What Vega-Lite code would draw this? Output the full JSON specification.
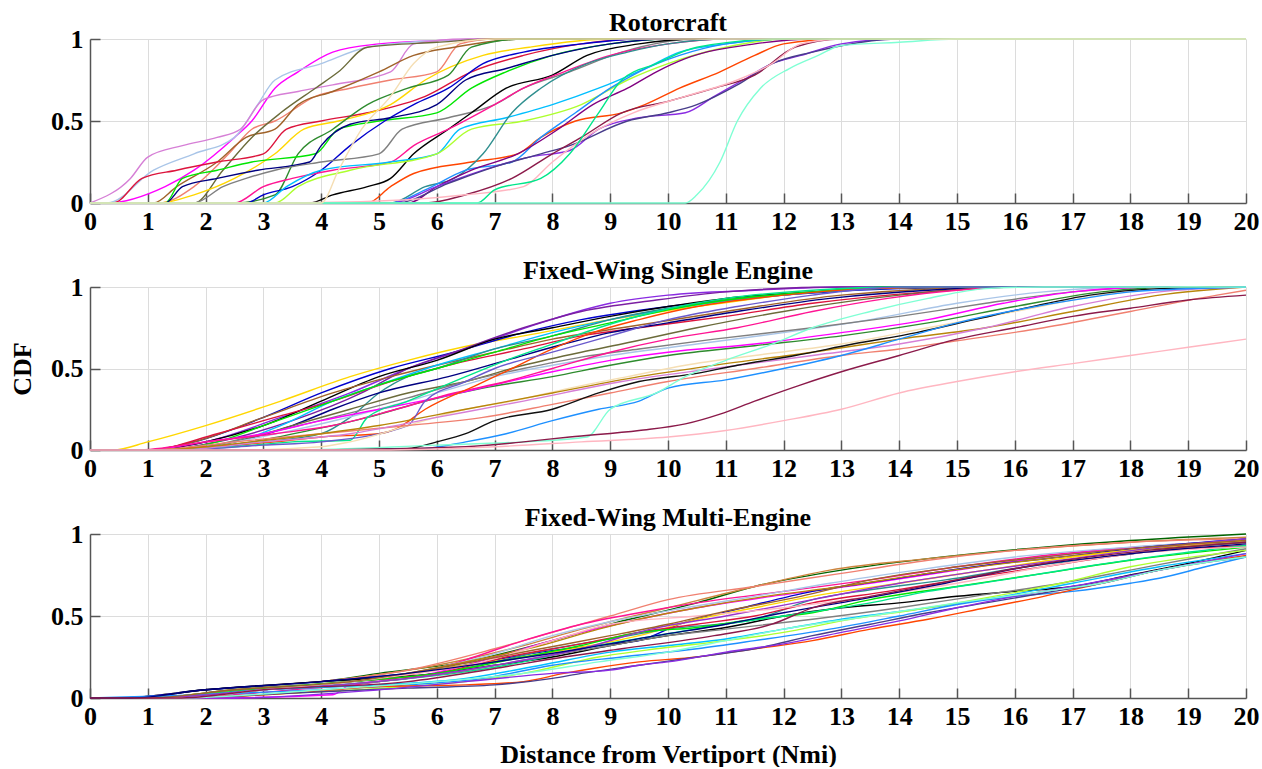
{
"$schema":"https://vega.github.io/schema/vega-lite/v6.json",
"background":"white",
"padding":{"left":9,"top":10,"right":5,"bottom":0},
"bounds":"flush",
"spacing":84,
"config":{
"font":"'Liberation Serif', 'Times New Roman', Times, serif",
"view":{"stroke":null},
"axis":{"labelFont":"'Liberation Serif', 'Times New Roman', Times, serif","labelFontSize":26,"labelFontWeight":"bold","labelColor":"#000","titleFont":"'Liberation Serif', 'Times New Roman', Times, serif","titleFontSize":26,"titleFontWeight":"bold","titleColor":"#000","domainColor":"#555","domainWidth":1.5,"tickColor":"#555","tickWidth":1.5,"tickSize":-10,"gridColor":"#dcdcdc","gridWidth":1,"labelFlush":false,"labelOverlap":false,"labelBound":false},
"axisX":{"labelPadding":15},
"axisY":{"labelPadding":17},
"title":{"font":"'Liberation Serif', 'Times New Roman', Times, serif","fontSize":26,"fontWeight":"bold","color":"#000","frame":"group","anchor":"middle","offset":-10}
},
"data":{"values":[
{"p":"R","s":"s01","x":0,"y":0},{"p":"R","s":"s01","x":0.3,"y":0},{"p":"R","s":"s01","x":1.3,"y":0.1},{"p":"R","s":"s01","x":1.8,"y":0.2},{"p":"R","s":"s01","x":2.5,"y":0.4},{"p":"R","s":"s01","x":2.8,"y":0.5},{"p":"R","s":"s01","x":3.2,"y":0.7},{"p":"R","s":"s01","x":3.6,"y":0.8},{"p":"R","s":"s01","x":4.2,"y":0.92},{"p":"R","s":"s01","x":5,"y":0.97},{"p":"R","s":"s01","x":6,"y":0.99},{"p":"R","s":"s01","x":7,"y":1},{"p":"R","s":"s01","x":20,"y":1},
{"p":"R","s":"s02","x":0,"y":0},{"p":"R","s":"s02","x":0.3,"y":0},{"p":"R","s":"s02","x":1.1,"y":0.2},{"p":"R","s":"s02","x":1.8,"y":0.3},{"p":"R","s":"s02","x":2.5,"y":0.4},{"p":"R","s":"s02","x":2.9,"y":0.6},{"p":"R","s":"s02","x":3.2,"y":0.75},{"p":"R","s":"s02","x":4,"y":0.85},{"p":"R","s":"s02","x":4.8,"y":0.95},{"p":"R","s":"s02","x":6,"y":0.99},{"p":"R","s":"s02","x":7,"y":1},{"p":"R","s":"s02","x":20,"y":1},
{"p":"R","s":"s03","x":0,"y":0},{"p":"R","s":"s03","x":0.7,"y":0.15},{"p":"R","s":"s03","x":1.0,"y":0.28},{"p":"R","s":"s03","x":1.6,"y":0.35},{"p":"R","s":"s03","x":2.2,"y":0.4},{"p":"R","s":"s03","x":2.6,"y":0.45},{"p":"R","s":"s03","x":3.0,"y":0.63},{"p":"R","s":"s03","x":3.6,"y":0.68},{"p":"R","s":"s03","x":4.2,"y":0.72},{"p":"R","s":"s03","x":5.2,"y":0.8},{"p":"R","s":"s03","x":5.6,"y":0.97},{"p":"R","s":"s03","x":6.5,"y":1},{"p":"R","s":"s03","x":20,"y":1},
{"p":"R","s":"s04","x":0,"y":0},{"p":"R","s":"s04","x":1.2,"y":0},{"p":"R","s":"s04","x":1.8,"y":0.1},{"p":"R","s":"s04","x":2.4,"y":0.3},{"p":"R","s":"s04","x":2.8,"y":0.45},{"p":"R","s":"s04","x":3.2,"y":0.5},{"p":"R","s":"s04","x":3.9,"y":0.65},{"p":"R","s":"s04","x":4.5,"y":0.7},{"p":"R","s":"s04","x":5.2,"y":0.75},{"p":"R","s":"s04","x":6.0,"y":0.8},{"p":"R","s":"s04","x":6.4,"y":0.97},{"p":"R","s":"s04","x":7,"y":1},{"p":"R","s":"s04","x":20,"y":1},
{"p":"R","s":"s05","x":0,"y":0},{"p":"R","s":"s05","x":1.1,"y":0},{"p":"R","s":"s05","x":1.5,"y":0.1},{"p":"R","s":"s05","x":2.2,"y":0.25},{"p":"R","s":"s05","x":2.7,"y":0.4},{"p":"R","s":"s05","x":3.2,"y":0.45},{"p":"R","s":"s05","x":3.6,"y":0.6},{"p":"R","s":"s05","x":4.2,"y":0.68},{"p":"R","s":"s05","x":5,"y":0.8},{"p":"R","s":"s05","x":5.6,"y":0.9},{"p":"R","s":"s05","x":6.3,"y":0.95},{"p":"R","s":"s05","x":7.5,"y":1},{"p":"R","s":"s05","x":20,"y":1},
{"p":"R","s":"s06","x":0,"y":0},{"p":"R","s":"s06","x":1.8,"y":0},{"p":"R","s":"s06","x":2.3,"y":0.2},{"p":"R","s":"s06","x":2.8,"y":0.4},{"p":"R","s":"s06","x":3.3,"y":0.55},{"p":"R","s":"s06","x":3.9,"y":0.7},{"p":"R","s":"s06","x":4.3,"y":0.8},{"p":"R","s":"s06","x":4.8,"y":0.95},{"p":"R","s":"s06","x":6,"y":0.98},{"p":"R","s":"s06","x":7,"y":1},{"p":"R","s":"s06","x":20,"y":1},
{"p":"R","s":"s07","x":0,"y":0},{"p":"R","s":"s07","x":0.4,"y":0},{"p":"R","s":"s07","x":0.9,"y":0.15},{"p":"R","s":"s07","x":1.5,"y":0.2},{"p":"R","s":"s07","x":2.2,"y":0.25},{"p":"R","s":"s07","x":3.0,"y":0.3},{"p":"R","s":"s07","x":3.4,"y":0.45},{"p":"R","s":"s07","x":4.0,"y":0.5},{"p":"R","s":"s07","x":4.8,"y":0.55},{"p":"R","s":"s07","x":5.8,"y":0.65},{"p":"R","s":"s07","x":6.6,"y":0.8},{"p":"R","s":"s07","x":7.5,"y":0.9},{"p":"R","s":"s07","x":8.5,"y":0.97},{"p":"R","s":"s07","x":9.5,"y":1},{"p":"R","s":"s07","x":20,"y":1},
{"p":"R","s":"s08","x":0,"y":0},{"p":"R","s":"s08","x":1.2,"y":0},{"p":"R","s":"s08","x":1.8,"y":0.05},{"p":"R","s":"s08","x":2.5,"y":0.15},{"p":"R","s":"s08","x":3.2,"y":0.3},{"p":"R","s":"s08","x":3.7,"y":0.45},{"p":"R","s":"s08","x":4.3,"y":0.5},{"p":"R","s":"s08","x":5.2,"y":0.6},{"p":"R","s":"s08","x":5.8,"y":0.75},{"p":"R","s":"s08","x":6.8,"y":0.9},{"p":"R","s":"s08","x":7.6,"y":0.95},{"p":"R","s":"s08","x":9,"y":1},{"p":"R","s":"s08","x":20,"y":1},
{"p":"R","s":"s09","x":0,"y":0},{"p":"R","s":"s09","x":2.5,"y":0},{"p":"R","s":"s09","x":3.2,"y":0.05},{"p":"R","s":"s09","x":3.6,"y":0.3},{"p":"R","s":"s09","x":4.2,"y":0.45},{"p":"R","s":"s09","x":4.8,"y":0.6},{"p":"R","s":"s09","x":5.5,"y":0.7},{"p":"R","s":"s09","x":6.2,"y":0.78},{"p":"R","s":"s09","x":6.6,"y":0.95},{"p":"R","s":"s09","x":7.5,"y":1},{"p":"R","s":"s09","x":20,"y":1},
{"p":"R","s":"s10","x":0,"y":0},{"p":"R","s":"s10","x":1.3,"y":0},{"p":"R","s":"s10","x":1.6,"y":0.15},{"p":"R","s":"s10","x":2.2,"y":0.2},{"p":"R","s":"s10","x":2.8,"y":0.25},{"p":"R","s":"s10","x":3.9,"y":0.3},{"p":"R","s":"s10","x":4.3,"y":0.45},{"p":"R","s":"s10","x":5,"y":0.5},{"p":"R","s":"s10","x":6,"y":0.55},{"p":"R","s":"s10","x":6.6,"y":0.7},{"p":"R","s":"s10","x":7.2,"y":0.8},{"p":"R","s":"s10","x":8,"y":0.9},{"p":"R","s":"s10","x":9,"y":0.97},{"p":"R","s":"s10","x":10,"y":1},{"p":"R","s":"s10","x":20,"y":1},
{"p":"R","s":"s11","x":0,"y":0},{"p":"R","s":"s11","x":2.7,"y":0},{"p":"R","s":"s11","x":3.0,"y":0.05},{"p":"R","s":"s11","x":3.5,"y":0.1},{"p":"R","s":"s11","x":4.0,"y":0.2},{"p":"R","s":"s11","x":4.5,"y":0.35},{"p":"R","s":"s11","x":5.1,"y":0.5},{"p":"R","s":"s11","x":5.6,"y":0.6},{"p":"R","s":"s11","x":6.2,"y":0.7},{"p":"R","s":"s11","x":6.8,"y":0.85},{"p":"R","s":"s11","x":7.5,"y":0.92},{"p":"R","s":"s11","x":8.5,"y":0.97},{"p":"R","s":"s11","x":9.5,"y":1},{"p":"R","s":"s11","x":20,"y":1},
{"p":"R","s":"s12","x":0,"y":0},{"p":"R","s":"s12","x":1.3,"y":0},{"p":"R","s":"s12","x":1.6,"y":0.1},{"p":"R","s":"s12","x":2.2,"y":0.15},{"p":"R","s":"s12","x":2.9,"y":0.2},{"p":"R","s":"s12","x":3.8,"y":0.25},{"p":"R","s":"s12","x":4.0,"y":0.35},{"p":"R","s":"s12","x":4.5,"y":0.48},{"p":"R","s":"s12","x":5.2,"y":0.52},{"p":"R","s":"s12","x":6,"y":0.6},{"p":"R","s":"s12","x":6.5,"y":0.75},{"p":"R","s":"s12","x":7.2,"y":0.82},{"p":"R","s":"s12","x":8,"y":0.9},{"p":"R","s":"s12","x":9,"y":0.97},{"p":"R","s":"s12","x":10,"y":1},{"p":"R","s":"s12","x":20,"y":1},
{"p":"R","s":"s14","x":0,"y":0},{"p":"R","s":"s14","x":1.8,"y":0},{"p":"R","s":"s14","x":2.3,"y":0.1},{"p":"R","s":"s14","x":2.7,"y":0.15},{"p":"R","s":"s14","x":3.2,"y":0.2},{"p":"R","s":"s14","x":4.0,"y":0.25},{"p":"R","s":"s14","x":5.0,"y":0.3},{"p":"R","s":"s14","x":5.4,"y":0.45},{"p":"R","s":"s14","x":6.2,"y":0.52},{"p":"R","s":"s14","x":7.0,"y":0.6},{"p":"R","s":"s14","x":7.5,"y":0.7},{"p":"R","s":"s14","x":8.3,"y":0.8},{"p":"R","s":"s14","x":9.2,"y":0.92},{"p":"R","s":"s14","x":10.5,"y":1},{"p":"R","s":"s14","x":20,"y":1},
{"p":"R","s":"s13","x":0,"y":0},{"p":"R","s":"s13","x":3.8,"y":0},{"p":"R","s":"s13","x":4.2,"y":0.05},{"p":"R","s":"s13","x":4.8,"y":0.1},{"p":"R","s":"s13","x":5.2,"y":0.15},{"p":"R","s":"s13","x":5.6,"y":0.3},{"p":"R","s":"s13","x":6.2,"y":0.45},{"p":"R","s":"s13","x":6.6,"y":0.55},{"p":"R","s":"s13","x":7.2,"y":0.7},{"p":"R","s":"s13","x":8,"y":0.78},{"p":"R","s":"s13","x":8.6,"y":0.9},{"p":"R","s":"s13","x":9.5,"y":0.97},{"p":"R","s":"s13","x":10.5,"y":1},{"p":"R","s":"s13","x":20,"y":1},
{"p":"R","s":"s17","x":0,"y":0},{"p":"R","s":"s17","x":2.5,"y":0},{"p":"R","s":"s17","x":3.0,"y":0.1},{"p":"R","s":"s17","x":3.5,"y":0.15},{"p":"R","s":"s17","x":4.2,"y":0.2},{"p":"R","s":"s17","x":5.2,"y":0.25},{"p":"R","s":"s17","x":5.6,"y":0.35},{"p":"R","s":"s17","x":6.2,"y":0.45},{"p":"R","s":"s17","x":7.0,"y":0.6},{"p":"R","s":"s17","x":7.5,"y":0.7},{"p":"R","s":"s17","x":8.2,"y":0.8},{"p":"R","s":"s17","x":9,"y":0.9},{"p":"R","s":"s17","x":10,"y":0.97},{"p":"R","s":"s17","x":11,"y":1},{"p":"R","s":"s17","x":20,"y":1},
{"p":"R","s":"s15","x":0,"y":0},{"p":"R","s":"s15","x":3.0,"y":0},{"p":"R","s":"s15","x":3.4,"y":0.1},{"p":"R","s":"s15","x":4.0,"y":0.2},{"p":"R","s":"s15","x":5.2,"y":0.25},{"p":"R","s":"s15","x":6.0,"y":0.3},{"p":"R","s":"s15","x":6.4,"y":0.45},{"p":"R","s":"s15","x":7.2,"y":0.52},{"p":"R","s":"s15","x":8.0,"y":0.6},{"p":"R","s":"s15","x":8.8,"y":0.7},{"p":"R","s":"s15","x":9.6,"y":0.82},{"p":"R","s":"s15","x":10.2,"y":0.92},{"p":"R","s":"s15","x":11,"y":0.97},{"p":"R","s":"s15","x":12,"y":1},{"p":"R","s":"s15","x":20,"y":1},
{"p":"R","s":"s16","x":0,"y":0},{"p":"R","s":"s16","x":3.2,"y":0},{"p":"R","s":"s16","x":3.6,"y":0.1},{"p":"R","s":"s16","x":4.5,"y":0.2},{"p":"R","s":"s16","x":6.0,"y":0.3},{"p":"R","s":"s16","x":6.6,"y":0.45},{"p":"R","s":"s16","x":7.5,"y":0.5},{"p":"R","s":"s16","x":8.5,"y":0.6},{"p":"R","s":"s16","x":9.3,"y":0.75},{"p":"R","s":"s16","x":10,"y":0.85},{"p":"R","s":"s16","x":11,"y":0.95},{"p":"R","s":"s16","x":12,"y":1},{"p":"R","s":"s16","x":20,"y":1},
{"p":"R","s":"s18","x":0,"y":0},{"p":"R","s":"s18","x":4.8,"y":0},{"p":"R","s":"s18","x":5.2,"y":0.1},{"p":"R","s":"s18","x":5.6,"y":0.18},{"p":"R","s":"s18","x":6.6,"y":0.25},{"p":"R","s":"s18","x":7.4,"y":0.3},{"p":"R","s":"s18","x":7.8,"y":0.4},{"p":"R","s":"s18","x":8.4,"y":0.5},{"p":"R","s":"s18","x":9.2,"y":0.55},{"p":"R","s":"s18","x":9.6,"y":0.6},{"p":"R","s":"s18","x":10.2,"y":0.7},{"p":"R","s":"s18","x":10.9,"y":0.8},{"p":"R","s":"s18","x":11.5,"y":0.9},{"p":"R","s":"s18","x":12,"y":0.97},{"p":"R","s":"s18","x":13,"y":1},{"p":"R","s":"s18","x":20,"y":1},
{"p":"R","s":"s22","x":0,"y":0},{"p":"R","s":"s22","x":5.2,"y":0},{"p":"R","s":"s22","x":5.8,"y":0.1},{"p":"R","s":"s22","x":6.3,"y":0.15},{"p":"R","s":"s22","x":6.8,"y":0.3},{"p":"R","s":"s22","x":7.3,"y":0.55},{"p":"R","s":"s22","x":7.8,"y":0.7},{"p":"R","s":"s22","x":8.6,"y":0.85},{"p":"R","s":"s22","x":9.3,"y":0.92},{"p":"R","s":"s22","x":10,"y":0.97},{"p":"R","s":"s22","x":11,"y":1},{"p":"R","s":"s22","x":20,"y":1},
{"p":"R","s":"s19","x":0,"y":0},{"p":"R","s":"s19","x":5.2,"y":0},{"p":"R","s":"s19","x":5.8,"y":0.08},{"p":"R","s":"s19","x":6.5,"y":0.2},{"p":"R","s":"s19","x":7.3,"y":0.25},{"p":"R","s":"s19","x":7.8,"y":0.4},{"p":"R","s":"s19","x":8.4,"y":0.55},{"p":"R","s":"s19","x":9.0,"y":0.7},{"p":"R","s":"s19","x":9.5,"y":0.8},{"p":"R","s":"s19","x":10.2,"y":0.9},{"p":"R","s":"s19","x":11,"y":0.97},{"p":"R","s":"s19","x":12,"y":1},{"p":"R","s":"s19","x":20,"y":1},
{"p":"R","s":"s21","x":0,"y":0},{"p":"R","s":"s21","x":5.5,"y":0},{"p":"R","s":"s21","x":6.0,"y":0.1},{"p":"R","s":"s21","x":6.6,"y":0.2},{"p":"R","s":"s21","x":7.4,"y":0.3},{"p":"R","s":"s21","x":8.1,"y":0.45},{"p":"R","s":"s21","x":8.7,"y":0.6},{"p":"R","s":"s21","x":9.3,"y":0.7},{"p":"R","s":"s21","x":9.8,"y":0.8},{"p":"R","s":"s21","x":10.3,"y":0.88},{"p":"R","s":"s21","x":11.5,"y":0.97},{"p":"R","s":"s21","x":12.5,"y":1},{"p":"R","s":"s21","x":20,"y":1},
{"p":"R","s":"s20","x":0,"y":0},{"p":"R","s":"s20","x":5.2,"y":0},{"p":"R","s":"s20","x":6.0,"y":0.1},{"p":"R","s":"s20","x":6.8,"y":0.2},{"p":"R","s":"s20","x":7.6,"y":0.28},{"p":"R","s":"s20","x":8.3,"y":0.32},{"p":"R","s":"s20","x":8.8,"y":0.45},{"p":"R","s":"s20","x":9.5,"y":0.52},{"p":"R","s":"s20","x":10.3,"y":0.55},{"p":"R","s":"s20","x":10.8,"y":0.65},{"p":"R","s":"s20","x":11.3,"y":0.75},{"p":"R","s":"s20","x":11.8,"y":0.85},{"p":"R","s":"s20","x":12.3,"y":0.9},{"p":"R","s":"s20","x":13,"y":0.97},{"p":"R","s":"s20","x":14,"y":1},{"p":"R","s":"s20","x":20,"y":1},
{"p":"R","s":"s29","x":0,"y":0},{"p":"R","s":"s29","x":5.3,"y":0},{"p":"R","s":"s29","x":6.2,"y":0.12},{"p":"R","s":"s29","x":7.0,"y":0.22},{"p":"R","s":"s29","x":7.8,"y":0.3},{"p":"R","s":"s29","x":8.3,"y":0.35},{"p":"R","s":"s29","x":9.3,"y":0.5},{"p":"R","s":"s29","x":10,"y":0.55},{"p":"R","s":"s29","x":10.5,"y":0.6},{"p":"R","s":"s29","x":11.2,"y":0.72},{"p":"R","s":"s29","x":11.8,"y":0.85},{"p":"R","s":"s29","x":12.5,"y":0.92},{"p":"R","s":"s29","x":14,"y":1},{"p":"R","s":"s29","x":20,"y":1},
{"p":"R","s":"s26","x":0,"y":0},{"p":"R","s":"s26","x":5.8,"y":0},{"p":"R","s":"s26","x":6.5,"y":0.05},{"p":"R","s":"s26","x":7.3,"y":0.15},{"p":"R","s":"s26","x":8.0,"y":0.3},{"p":"R","s":"s26","x":8.5,"y":0.4},{"p":"R","s":"s26","x":9.2,"y":0.55},{"p":"R","s":"s26","x":10.0,"y":0.62},{"p":"R","s":"s26","x":10.8,"y":0.7},{"p":"R","s":"s26","x":11.5,"y":0.78},{"p":"R","s":"s26","x":12.2,"y":0.95},{"p":"R","s":"s26","x":13,"y":1},{"p":"R","s":"s26","x":20,"y":1},
{"p":"R","s":"s25","x":0,"y":0},{"p":"R","s":"s25","x":3.5,"y":0},{"p":"R","s":"s25","x":5.5,"y":0.02},{"p":"R","s":"s25","x":6.5,"y":0.05},{"p":"R","s":"s25","x":7.5,"y":0.1},{"p":"R","s":"s25","x":8.0,"y":0.25},{"p":"R","s":"s25","x":8.8,"y":0.45},{"p":"R","s":"s25","x":9.4,"y":0.55},{"p":"R","s":"s25","x":10.3,"y":0.65},{"p":"R","s":"s25","x":11.2,"y":0.75},{"p":"R","s":"s25","x":11.8,"y":0.85},{"p":"R","s":"s25","x":12.3,"y":0.97},{"p":"R","s":"s25","x":13,"y":1},{"p":"R","s":"s25","x":20,"y":1},
{"p":"R","s":"s23","x":0,"y":0},{"p":"R","s":"s23","x":6.7,"y":0},{"p":"R","s":"s23","x":7.0,"y":0.08},{"p":"R","s":"s23","x":7.8,"y":0.15},{"p":"R","s":"s23","x":8.3,"y":0.3},{"p":"R","s":"s23","x":8.8,"y":0.55},{"p":"R","s":"s23","x":9.2,"y":0.75},{"p":"R","s":"s23","x":9.8,"y":0.85},{"p":"R","s":"s23","x":10.5,"y":0.95},{"p":"R","s":"s23","x":12,"y":1},{"p":"R","s":"s23","x":20,"y":1},
{"p":"R","s":"s24","x":0,"y":0},{"p":"R","s":"s24","x":10.3,"y":0},{"p":"R","s":"s24","x":10.5,"y":0.05},{"p":"R","s":"s24","x":10.9,"y":0.25},{"p":"R","s":"s24","x":11.2,"y":0.5},{"p":"R","s":"s24","x":11.6,"y":0.7},{"p":"R","s":"s24","x":12.1,"y":0.82},{"p":"R","s":"s24","x":12.6,"y":0.9},{"p":"R","s":"s24","x":13,"y":0.96},{"p":"R","s":"s24","x":14,"y":0.98},{"p":"R","s":"s24","x":15,"y":1},{"p":"R","s":"s24","x":20,"y":1},
{"p":"R","s":"s27","x":0,"y":0},{"p":"R","s":"s27","x":4.0,"y":0},{"p":"R","s":"s27","x":4.3,"y":0.2},{"p":"R","s":"s27","x":4.7,"y":0.45},{"p":"R","s":"s27","x":5.2,"y":0.65},{"p":"R","s":"s27","x":5.6,"y":0.85},{"p":"R","s":"s27","x":6.0,"y":0.95},{"p":"R","s":"s27","x":7,"y":1},{"p":"R","s":"s27","x":20,"y":1},

{"p":"S","s":"s08","x":0,"y":0},{"p":"S","s":"s08","x":0.4,"y":0},{"p":"S","s":"s08","x":1.0,"y":0.05},{"p":"S","s":"s08","x":2.0,"y":0.15},{"p":"S","s":"s08","x":3.3,"y":0.3},{"p":"S","s":"s08","x":4.5,"y":0.45},{"p":"S","s":"s08","x":5.5,"y":0.55},{"p":"S","s":"s08","x":6.7,"y":0.65},{"p":"S","s":"s08","x":7.5,"y":0.7},{"p":"S","s":"s08","x":9,"y":0.8},{"p":"S","s":"s08","x":10.5,"y":0.88},{"p":"S","s":"s08","x":12,"y":0.95},{"p":"S","s":"s08","x":14,"y":1},{"p":"S","s":"s08","x":20,"y":1},
{"p":"S","s":"s11","x":0,"y":0},{"p":"S","s":"s11","x":1.0,"y":0},{"p":"S","s":"s11","x":1.8,"y":0.05},{"p":"S","s":"s11","x":3.0,"y":0.2},{"p":"S","s":"s11","x":4.0,"y":0.35},{"p":"S","s":"s11","x":5.2,"y":0.5},{"p":"S","s":"s11","x":6.3,"y":0.6},{"p":"S","s":"s11","x":7.5,"y":0.72},{"p":"S","s":"s11","x":8.5,"y":0.8},{"p":"S","s":"s11","x":10,"y":0.88},{"p":"S","s":"s11","x":12,"y":0.95},{"p":"S","s":"s11","x":14,"y":0.99},{"p":"S","s":"s11","x":16,"y":1},{"p":"S","s":"s11","x":20,"y":1},
{"p":"S","s":"s20","x":0,"y":0},{"p":"S","s":"s20","x":1.0,"y":0},{"p":"S","s":"s20","x":2.0,"y":0.05},{"p":"S","s":"s20","x":3.3,"y":0.2},{"p":"S","s":"s20","x":4.5,"y":0.35},{"p":"S","s":"s20","x":5.5,"y":0.5},{"p":"S","s":"s20","x":6.5,"y":0.62},{"p":"S","s":"s20","x":7.8,"y":0.78},{"p":"S","s":"s20","x":9,"y":0.9},{"p":"S","s":"s20","x":10,"y":0.95},{"p":"S","s":"s20","x":11.5,"y":0.98},{"p":"S","s":"s20","x":13,"y":1},{"p":"S","s":"s20","x":20,"y":1},
{"p":"S","s":"s30","x":0,"y":0},{"p":"S","s":"s30","x":1.2,"y":0},{"p":"S","s":"s30","x":2.2,"y":0.05},{"p":"S","s":"s30","x":3.5,"y":0.18},{"p":"S","s":"s30","x":4.7,"y":0.35},{"p":"S","s":"s30","x":5.5,"y":0.5},{"p":"S","s":"s30","x":6.3,"y":0.6},{"p":"S","s":"s30","x":7.5,"y":0.75},{"p":"S","s":"s30","x":8.5,"y":0.85},{"p":"S","s":"s30","x":9.8,"y":0.92},{"p":"S","s":"s30","x":11,"y":0.97},{"p":"S","s":"s30","x":13,"y":1},{"p":"S","s":"s30","x":20,"y":1},
{"p":"S","s":"s13","x":0,"y":0},{"p":"S","s":"s13","x":1.0,"y":0},{"p":"S","s":"s13","x":2.0,"y":0.05},{"p":"S","s":"s13","x":3.0,"y":0.15},{"p":"S","s":"s13","x":4.0,"y":0.3},{"p":"S","s":"s13","x":5.0,"y":0.45},{"p":"S","s":"s13","x":6.0,"y":0.55},{"p":"S","s":"s13","x":7.0,"y":0.68},{"p":"S","s":"s13","x":8.0,"y":0.75},{"p":"S","s":"s13","x":9.0,"y":0.82},{"p":"S","s":"s13","x":10,"y":0.88},{"p":"S","s":"s13","x":11,"y":0.93},{"p":"S","s":"s13","x":12.5,"y":0.97},{"p":"S","s":"s13","x":14,"y":1},{"p":"S","s":"s13","x":20,"y":1},
{"p":"S","s":"s05","x":0,"y":0},{"p":"S","s":"s05","x":1.0,"y":0},{"p":"S","s":"s05","x":1.8,"y":0.05},{"p":"S","s":"s05","x":3.0,"y":0.2},{"p":"S","s":"s05","x":4.2,"y":0.35},{"p":"S","s":"s05","x":5.2,"y":0.45},{"p":"S","s":"s05","x":6.0,"y":0.52},{"p":"S","s":"s05","x":7.0,"y":0.6},{"p":"S","s":"s05","x":8.0,"y":0.68},{"p":"S","s":"s05","x":9.2,"y":0.75},{"p":"S","s":"s05","x":11,"y":0.85},{"p":"S","s":"s05","x":13,"y":0.95},{"p":"S","s":"s05","x":16,"y":1},{"p":"S","s":"s05","x":20,"y":1},
{"p":"S","s":"s07","x":0,"y":0},{"p":"S","s":"s07","x":1.0,"y":0},{"p":"S","s":"s07","x":2.2,"y":0.1},{"p":"S","s":"s07","x":3.2,"y":0.2},{"p":"S","s":"s07","x":4.2,"y":0.3},{"p":"S","s":"s07","x":5.2,"y":0.42},{"p":"S","s":"s07","x":6.2,"y":0.52},{"p":"S","s":"s07","x":7.5,"y":0.62},{"p":"S","s":"s07","x":8.5,"y":0.7},{"p":"S","s":"s07","x":9.5,"y":0.75},{"p":"S","s":"s07","x":11,"y":0.82},{"p":"S","s":"s07","x":12.5,"y":0.9},{"p":"S","s":"s07","x":14.5,"y":0.97},{"p":"S","s":"s07","x":16,"y":1},{"p":"S","s":"s07","x":20,"y":1},
{"p":"S","s":"s15","x":0,"y":0},{"p":"S","s":"s15","x":1.0,"y":0},{"p":"S","s":"s15","x":2.5,"y":0.05},{"p":"S","s":"s15","x":3.3,"y":0.15},{"p":"S","s":"s15","x":4.2,"y":0.3},{"p":"S","s":"s15","x":5.0,"y":0.4},{"p":"S","s":"s15","x":6.0,"y":0.52},{"p":"S","s":"s15","x":7.0,"y":0.62},{"p":"S","s":"s15","x":8.0,"y":0.72},{"p":"S","s":"s15","x":9.0,"y":0.8},{"p":"S","s":"s15","x":10.3,"y":0.88},{"p":"S","s":"s15","x":12,"y":0.95},{"p":"S","s":"s15","x":13.5,"y":0.99},{"p":"S","s":"s15","x":15,"y":1},{"p":"S","s":"s15","x":20,"y":1},
{"p":"S","s":"s22","x":0,"y":0},{"p":"S","s":"s22","x":1.5,"y":0},{"p":"S","s":"s22","x":3.0,"y":0.05},{"p":"S","s":"s22","x":4.0,"y":0.1},{"p":"S","s":"s22","x":4.5,"y":0.2},{"p":"S","s":"s22","x":5.0,"y":0.35},{"p":"S","s":"s22","x":5.5,"y":0.45},{"p":"S","s":"s22","x":6.0,"y":0.5},{"p":"S","s":"s22","x":7.0,"y":0.62},{"p":"S","s":"s22","x":8,"y":0.7},{"p":"S","s":"s22","x":9,"y":0.8},{"p":"S","s":"s22","x":10,"y":0.87},{"p":"S","s":"s22","x":11.3,"y":0.93},{"p":"S","s":"s22","x":13,"y":0.98},{"p":"S","s":"s22","x":15,"y":1},{"p":"S","s":"s22","x":20,"y":1},
{"p":"S","s":"s10","x":0,"y":0},{"p":"S","s":"s10","x":1.2,"y":0},{"p":"S","s":"s10","x":2.2,"y":0.05},{"p":"S","s":"s10","x":3.0,"y":0.15},{"p":"S","s":"s10","x":4.2,"y":0.3},{"p":"S","s":"s10","x":5.0,"y":0.4},{"p":"S","s":"s10","x":6.0,"y":0.5},{"p":"S","s":"s10","x":7.0,"y":0.6},{"p":"S","s":"s10","x":8.0,"y":0.7},{"p":"S","s":"s10","x":9.0,"y":0.78},{"p":"S","s":"s10","x":10,"y":0.86},{"p":"S","s":"s10","x":11,"y":0.92},{"p":"S","s":"s10","x":12.5,"y":0.97},{"p":"S","s":"s10","x":14,"y":1},{"p":"S","s":"s10","x":20,"y":1},
{"p":"S","s":"s12","x":0,"y":0},{"p":"S","s":"s12","x":1.5,"y":0},{"p":"S","s":"s12","x":2.5,"y":0.05},{"p":"S","s":"s12","x":3.5,"y":0.15},{"p":"S","s":"s12","x":4.2,"y":0.25},{"p":"S","s":"s12","x":5.0,"y":0.35},{"p":"S","s":"s12","x":6.2,"y":0.45},{"p":"S","s":"s12","x":7.2,"y":0.55},{"p":"S","s":"s12","x":8.2,"y":0.65},{"p":"S","s":"s12","x":9.0,"y":0.72},{"p":"S","s":"s12","x":10,"y":0.78},{"p":"S","s":"s12","x":11.2,"y":0.85},{"p":"S","s":"s12","x":12.8,"y":0.93},{"p":"S","s":"s12","x":14.5,"y":0.98},{"p":"S","s":"s12","x":16,"y":1},{"p":"S","s":"s12","x":20,"y":1},
{"p":"S","s":"s06","x":0,"y":0},{"p":"S","s":"s06","x":1.3,"y":0},{"p":"S","s":"s06","x":2.5,"y":0.05},{"p":"S","s":"s06","x":3.5,"y":0.15},{"p":"S","s":"s06","x":4.5,"y":0.25},{"p":"S","s":"s06","x":5.5,"y":0.35},{"p":"S","s":"s06","x":6.5,"y":0.42},{"p":"S","s":"s06","x":7.5,"y":0.52},{"p":"S","s":"s06","x":8.5,"y":0.6},{"p":"S","s":"s06","x":9.2,"y":0.65},{"p":"S","s":"s06","x":10.5,"y":0.75},{"p":"S","s":"s06","x":12,"y":0.85},{"p":"S","s":"s06","x":14,"y":0.95},{"p":"S","s":"s06","x":16,"y":1},{"p":"S","s":"s06","x":20,"y":1},
{"p":"S","s":"s02","x":0,"y":0},{"p":"S","s":"s02","x":1.5,"y":0},{"p":"S","s":"s02","x":2.5,"y":0.05},{"p":"S","s":"s02","x":3.5,"y":0.12},{"p":"S","s":"s02","x":5.0,"y":0.25},{"p":"S","s":"s02","x":6.0,"y":0.35},{"p":"S","s":"s02","x":7.0,"y":0.45},{"p":"S","s":"s02","x":8.0,"y":0.52},{"p":"S","s":"s02","x":9.0,"y":0.58},{"p":"S","s":"s02","x":10.5,"y":0.65},{"p":"S","s":"s02","x":12,"y":0.72},{"p":"S","s":"s02","x":13.5,"y":0.8},{"p":"S","s":"s02","x":15,"y":0.9},{"p":"S","s":"s02","x":16.5,"y":0.97},{"p":"S","s":"s02","x":18,"y":1},{"p":"S","s":"s02","x":20,"y":1},
{"p":"S","s":"s14","x":0,"y":0},{"p":"S","s":"s14","x":1.5,"y":0},{"p":"S","s":"s14","x":3,"y":0.1},{"p":"S","s":"s14","x":4.2,"y":0.2},{"p":"S","s":"s14","x":5.5,"y":0.32},{"p":"S","s":"s14","x":6.5,"y":0.42},{"p":"S","s":"s14","x":7.5,"y":0.5},{"p":"S","s":"s14","x":8.5,"y":0.57},{"p":"S","s":"s14","x":9.5,"y":0.62},{"p":"S","s":"s14","x":10.8,"y":0.68},{"p":"S","s":"s14","x":12.5,"y":0.75},{"p":"S","s":"s14","x":14,"y":0.82},{"p":"S","s":"s14","x":15.5,"y":0.9},{"p":"S","s":"s14","x":17,"y":0.97},{"p":"S","s":"s14","x":18.5,"y":1},{"p":"S","s":"s14","x":20,"y":1},
{"p":"S","s":"s09","x":0,"y":0},{"p":"S","s":"s09","x":1.5,"y":0},{"p":"S","s":"s09","x":2.8,"y":0.05},{"p":"S","s":"s09","x":3.8,"y":0.12},{"p":"S","s":"s09","x":4.8,"y":0.2},{"p":"S","s":"s09","x":5.8,"y":0.3},{"p":"S","s":"s09","x":6.8,"y":0.38},{"p":"S","s":"s09","x":8.0,"y":0.45},{"p":"S","s":"s09","x":9.0,"y":0.52},{"p":"S","s":"s09","x":10.0,"y":0.58},{"p":"S","s":"s09","x":11.5,"y":0.64},{"p":"S","s":"s09","x":13,"y":0.7},{"p":"S","s":"s09","x":14.5,"y":0.78},{"p":"S","s":"s09","x":16,"y":0.88},{"p":"S","s":"s09","x":17.5,"y":0.97},{"p":"S","s":"s09","x":19,"y":1},{"p":"S","s":"s09","x":20,"y":1},
{"p":"S","s":"s01","x":0,"y":0},{"p":"S","s":"s01","x":1.0,"y":0},{"p":"S","s":"s01","x":2.0,"y":0.05},{"p":"S","s":"s01","x":3.0,"y":0.1},{"p":"S","s":"s01","x":4.0,"y":0.18},{"p":"S","s":"s01","x":5.0,"y":0.25},{"p":"S","s":"s01","x":6.0,"y":0.32},{"p":"S","s":"s01","x":7.0,"y":0.4},{"p":"S","s":"s01","x":8.0,"y":0.48},{"p":"S","s":"s01","x":9.0,"y":0.55},{"p":"S","s":"s01","x":10.0,"y":0.6},{"p":"S","s":"s01","x":11.5,"y":0.65},{"p":"S","s":"s01","x":13,"y":0.72},{"p":"S","s":"s01","x":14.5,"y":0.8},{"p":"S","s":"s01","x":15.8,"y":0.9},{"p":"S","s":"s01","x":17,"y":0.97},{"p":"S","s":"s01","x":18.5,"y":1},{"p":"S","s":"s01","x":20,"y":1},
{"p":"S","s":"s17","x":0,"y":0},{"p":"S","s":"s17","x":0.8,"y":0},{"p":"S","s":"s17","x":2.0,"y":0.05},{"p":"S","s":"s17","x":3.2,"y":0.1},{"p":"S","s":"s17","x":4.2,"y":0.15},{"p":"S","s":"s17","x":5.3,"y":0.25},{"p":"S","s":"s17","x":6.3,"y":0.35},{"p":"S","s":"s17","x":7.2,"y":0.42},{"p":"S","s":"s17","x":8.0,"y":0.5},{"p":"S","s":"s17","x":9.0,"y":0.6},{"p":"S","s":"s17","x":10.0,"y":0.68},{"p":"S","s":"s17","x":11.2,"y":0.75},{"p":"S","s":"s17","x":12.5,"y":0.85},{"p":"S","s":"s17","x":13.8,"y":0.93},{"p":"S","s":"s17","x":15,"y":0.98},{"p":"S","s":"s17","x":16,"y":1},{"p":"S","s":"s17","x":20,"y":1},
{"p":"S","s":"s18","x":0,"y":0},{"p":"S","s":"s18","x":1.0,"y":0},{"p":"S","s":"s18","x":2.0,"y":0.02},{"p":"S","s":"s18","x":3.2,"y":0.05},{"p":"S","s":"s18","x":4.0,"y":0.08},{"p":"S","s":"s18","x":5.0,"y":0.1},{"p":"S","s":"s18","x":5.3,"y":0.13},{"p":"S","s":"s18","x":5.8,"y":0.25},{"p":"S","s":"s18","x":6.7,"y":0.4},{"p":"S","s":"s18","x":7.3,"y":0.5},{"p":"S","s":"s18","x":8.0,"y":0.62},{"p":"S","s":"s18","x":8.7,"y":0.72},{"p":"S","s":"s18","x":9.5,"y":0.8},{"p":"S","s":"s18","x":10.5,"y":0.88},{"p":"S","s":"s18","x":12,"y":0.95},{"p":"S","s":"s18","x":13.5,"y":0.99},{"p":"S","s":"s18","x":15,"y":1},{"p":"S","s":"s18","x":20,"y":1},
{"p":"S","s":"s23","x":0,"y":0},{"p":"S","s":"s23","x":1.2,"y":0},{"p":"S","s":"s23","x":2.5,"y":0.02},{"p":"S","s":"s23","x":3.5,"y":0.05},{"p":"S","s":"s23","x":4.5,"y":0.06},{"p":"S","s":"s23","x":4.8,"y":0.2},{"p":"S","s":"s23","x":5.5,"y":0.3},{"p":"S","s":"s23","x":6.5,"y":0.45},{"p":"S","s":"s23","x":7.2,"y":0.55},{"p":"S","s":"s23","x":8.0,"y":0.65},{"p":"S","s":"s23","x":8.8,"y":0.75},{"p":"S","s":"s23","x":9.8,"y":0.85},{"p":"S","s":"s23","x":11,"y":0.93},{"p":"S","s":"s23","x":12.5,"y":0.98},{"p":"S","s":"s23","x":14,"y":1},{"p":"S","s":"s23","x":20,"y":1},
{"p":"S","s":"s31","x":0,"y":0},{"p":"S","s":"s31","x":1.5,"y":0},{"p":"S","s":"s31","x":3.0,"y":0.03},{"p":"S","s":"s31","x":4.0,"y":0.05},{"p":"S","s":"s31","x":5.5,"y":0.15},{"p":"S","s":"s31","x":5.8,"y":0.3},{"p":"S","s":"s31","x":6.5,"y":0.42},{"p":"S","s":"s31","x":7.0,"y":0.5},{"p":"S","s":"s31","x":8.0,"y":0.6},{"p":"S","s":"s31","x":9.0,"y":0.7},{"p":"S","s":"s31","x":10.0,"y":0.8},{"p":"S","s":"s31","x":11.2,"y":0.88},{"p":"S","s":"s31","x":12.5,"y":0.95},{"p":"S","s":"s31","x":14,"y":1},{"p":"S","s":"s31","x":20,"y":1},
{"p":"S","s":"s27","x":0,"y":0},{"p":"S","s":"s27","x":2.5,"y":0},{"p":"S","s":"s27","x":4.0,"y":0.02},{"p":"S","s":"s27","x":4.5,"y":0.05},{"p":"S","s":"s27","x":5.5,"y":0.15},{"p":"S","s":"s27","x":6.5,"y":0.25},{"p":"S","s":"s27","x":7.3,"y":0.3},{"p":"S","s":"s27","x":8.3,"y":0.38},{"p":"S","s":"s27","x":9.3,"y":0.45},{"p":"S","s":"s27","x":10.3,"y":0.52},{"p":"S","s":"s27","x":11.5,"y":0.58},{"p":"S","s":"s27","x":13,"y":0.65},{"p":"S","s":"s27","x":14.5,"y":0.75},{"p":"S","s":"s27","x":16,"y":0.85},{"p":"S","s":"s27","x":17.5,"y":0.95},{"p":"S","s":"s27","x":19,"y":1},{"p":"S","s":"s27","x":20,"y":1},
{"p":"S","s":"s04","x":0,"y":0},{"p":"S","s":"s04","x":1.0,"y":0},{"p":"S","s":"s04","x":2.5,"y":0.05},{"p":"S","s":"s04","x":4.0,"y":0.1},{"p":"S","s":"s04","x":5.5,"y":0.15},{"p":"S","s":"s04","x":6.8,"y":0.2},{"p":"S","s":"s04","x":8.0,"y":0.28},{"p":"S","s":"s04","x":9.0,"y":0.35},{"p":"S","s":"s04","x":10.0,"y":0.42},{"p":"S","s":"s04","x":11.5,"y":0.5},{"p":"S","s":"s04","x":13,"y":0.58},{"p":"S","s":"s04","x":14,"y":0.62},{"p":"S","s":"s04","x":15,"y":0.67},{"p":"S","s":"s04","x":16.5,"y":0.75},{"p":"S","s":"s04","x":18,"y":0.85},{"p":"S","s":"s04","x":19.5,"y":0.95},{"p":"S","s":"s04","x":20,"y":0.98},
{"p":"S","s":"s28","x":0,"y":0},{"p":"S","s":"s28","x":1.2,"y":0},{"p":"S","s":"s28","x":2.8,"y":0.05},{"p":"S","s":"s28","x":4.0,"y":0.1},{"p":"S","s":"s28","x":5.0,"y":0.15},{"p":"S","s":"s28","x":6.5,"y":0.25},{"p":"S","s":"s28","x":8.0,"y":0.35},{"p":"S","s":"s28","x":9.5,"y":0.45},{"p":"S","s":"s28","x":10.8,"y":0.52},{"p":"S","s":"s28","x":12.5,"y":0.6},{"p":"S","s":"s28","x":14,"y":0.68},{"p":"S","s":"s28","x":15.5,"y":0.75},{"p":"S","s":"s28","x":17,"y":0.85},{"p":"S","s":"s28","x":18.5,"y":0.95},{"p":"S","s":"s28","x":20,"y":1},
{"p":"S","s":"s03","x":0,"y":0},{"p":"S","s":"s03","x":1.5,"y":0},{"p":"S","s":"s03","x":3.0,"y":0.05},{"p":"S","s":"s03","x":4.5,"y":0.1},{"p":"S","s":"s03","x":6.0,"y":0.2},{"p":"S","s":"s03","x":7.5,"y":0.3},{"p":"S","s":"s03","x":9.2,"y":0.42},{"p":"S","s":"s03","x":10.8,"y":0.5},{"p":"S","s":"s03","x":12.5,"y":0.58},{"p":"S","s":"s03","x":14,"y":0.65},{"p":"S","s":"s03","x":15.5,"y":0.75},{"p":"S","s":"s03","x":17,"y":0.88},{"p":"S","s":"s03","x":18.5,"y":0.97},{"p":"S","s":"s03","x":20,"y":1},
{"p":"S","s":"s35","x":0,"y":0},{"p":"S","s":"s35","x":3.0,"y":0},{"p":"S","s":"s35","x":5.5,"y":0.01},{"p":"S","s":"s35","x":6.0,"y":0.05},{"p":"S","s":"s35","x":6.5,"y":0.1},{"p":"S","s":"s35","x":7.0,"y":0.18},{"p":"S","s":"s35","x":8.0,"y":0.25},{"p":"S","s":"s35","x":8.8,"y":0.35},{"p":"S","s":"s35","x":9.5,"y":0.42},{"p":"S","s":"s35","x":10.5,"y":0.47},{"p":"S","s":"s35","x":11.2,"y":0.52},{"p":"S","s":"s35","x":12.2,"y":0.58},{"p":"S","s":"s35","x":13.2,"y":0.65},{"p":"S","s":"s35","x":14.3,"y":0.72},{"p":"S","s":"s35","x":15.3,"y":0.8},{"p":"S","s":"s35","x":16.3,"y":0.88},{"p":"S","s":"s35","x":17.3,"y":0.95},{"p":"S","s":"s35","x":18.5,"y":0.99},{"p":"S","s":"s35","x":20,"y":1},
{"p":"S","s":"s19","x":0,"y":0},{"p":"S","s":"s19","x":4.0,"y":0},{"p":"S","s":"s19","x":5.8,"y":0.01},{"p":"S","s":"s19","x":6.5,"y":0.05},{"p":"S","s":"s19","x":7.2,"y":0.1},{"p":"S","s":"s19","x":8.0,"y":0.18},{"p":"S","s":"s19","x":8.8,"y":0.25},{"p":"S","s":"s19","x":9.5,"y":0.3},{"p":"S","s":"s19","x":10.0,"y":0.38},{"p":"S","s":"s19","x":11.0,"y":0.43},{"p":"S","s":"s19","x":12.0,"y":0.5},{"p":"S","s":"s19","x":13.0,"y":0.58},{"p":"S","s":"s19","x":14.0,"y":0.68},{"p":"S","s":"s19","x":15.0,"y":0.78},{"p":"S","s":"s19","x":16.2,"y":0.87},{"p":"S","s":"s19","x":17.2,"y":0.93},{"p":"S","s":"s19","x":18.0,"y":0.97},{"p":"S","s":"s19","x":20,"y":1},
{"p":"S","s":"s24","x":0,"y":0},{"p":"S","s":"s24","x":3.5,"y":0},{"p":"S","s":"s24","x":6.0,"y":0.03},{"p":"S","s":"s24","x":7.5,"y":0.05},{"p":"S","s":"s24","x":8.6,"y":0.08},{"p":"S","s":"s24","x":9.0,"y":0.25},{"p":"S","s":"s24","x":9.8,"y":0.35},{"p":"S","s":"s24","x":10.3,"y":0.45},{"p":"S","s":"s24","x":11.0,"y":0.55},{"p":"S","s":"s24","x":11.8,"y":0.65},{"p":"S","s":"s24","x":12.5,"y":0.75},{"p":"S","s":"s24","x":13.5,"y":0.85},{"p":"S","s":"s24","x":14.5,"y":0.93},{"p":"S","s":"s24","x":15.5,"y":0.99},{"p":"S","s":"s24","x":16.5,"y":1},{"p":"S","s":"s24","x":20,"y":1},
{"p":"S","s":"s26","x":0,"y":0},{"p":"S","s":"s26","x":4.0,"y":0},{"p":"S","s":"s26","x":6.5,"y":0.02},{"p":"S","s":"s26","x":7.5,"y":0.05},{"p":"S","s":"s26","x":8.3,"y":0.08},{"p":"S","s":"s26","x":9.5,"y":0.12},{"p":"S","s":"s26","x":10.3,"y":0.16},{"p":"S","s":"s26","x":10.9,"y":0.22},{"p":"S","s":"s26","x":11.5,"y":0.3},{"p":"S","s":"s26","x":12.3,"y":0.4},{"p":"S","s":"s26","x":13,"y":0.48},{"p":"S","s":"s26","x":14,"y":0.58},{"p":"S","s":"s26","x":15,"y":0.68},{"p":"S","s":"s26","x":16,"y":0.75},{"p":"S","s":"s26","x":17,"y":0.82},{"p":"S","s":"s26","x":18,"y":0.87},{"p":"S","s":"s26","x":19,"y":0.92},{"p":"S","s":"s26","x":20,"y":0.95},
{"p":"S","s":"s25","x":0,"y":0},{"p":"S","s":"s25","x":5.0,"y":0},{"p":"S","s":"s25","x":7.0,"y":0.02},{"p":"S","s":"s25","x":8.5,"y":0.05},{"p":"S","s":"s25","x":10.0,"y":0.08},{"p":"S","s":"s25","x":11.0,"y":0.12},{"p":"S","s":"s25","x":12.0,"y":0.18},{"p":"S","s":"s25","x":13.0,"y":0.25},{"p":"S","s":"s25","x":14.0,"y":0.35},{"p":"S","s":"s25","x":15.0,"y":0.42},{"p":"S","s":"s25","x":16.0,"y":0.48},{"p":"S","s":"s25","x":17.0,"y":0.53},{"p":"S","s":"s25","x":18.0,"y":0.58},{"p":"S","s":"s25","x":19.0,"y":0.63},{"p":"S","s":"s25","x":20.0,"y":0.68},

{"p":"M","s":"s32","x":0,"y":0},{"p":"M","s":"s32","x":0.5,"y":0},{"p":"M","s":"s32","x":2,"y":0.05},{"p":"M","s":"s32","x":4,"y":0.1},{"p":"M","s":"s32","x":5,"y":0.15},{"p":"M","s":"s32","x":6.5,"y":0.22},{"p":"M","s":"s32","x":8,"y":0.35},{"p":"M","s":"s32","x":9,"y":0.45},{"p":"M","s":"s32","x":10.5,"y":0.58},{"p":"M","s":"s32","x":11.5,"y":0.68},{"p":"M","s":"s32","x":13,"y":0.78},{"p":"M","s":"s32","x":14.5,"y":0.85},{"p":"M","s":"s32","x":16.5,"y":0.92},{"p":"M","s":"s32","x":18,"y":0.96},{"p":"M","s":"s32","x":20,"y":1},
{"p":"M","s":"s33","x":0,"y":0},{"p":"M","s":"s33","x":0.5,"y":0},{"p":"M","s":"s33","x":2,"y":0.05},{"p":"M","s":"s33","x":4.5,"y":0.12},{"p":"M","s":"s33","x":6,"y":0.2},{"p":"M","s":"s33","x":7.5,"y":0.32},{"p":"M","s":"s33","x":8.5,"y":0.42},{"p":"M","s":"s33","x":10,"y":0.55},{"p":"M","s":"s33","x":11.5,"y":0.68},{"p":"M","s":"s33","x":12.8,"y":0.78},{"p":"M","s":"s33","x":14.5,"y":0.85},{"p":"M","s":"s33","x":16,"y":0.9},{"p":"M","s":"s33","x":18,"y":0.95},{"p":"M","s":"s33","x":20,"y":0.98},
{"p":"M","s":"s04","x":0,"y":0},{"p":"M","s":"s04","x":1.0,"y":0},{"p":"M","s":"s04","x":2.5,"y":0.05},{"p":"M","s":"s04","x":4,"y":0.1},{"p":"M","s":"s04","x":5.5,"y":0.17},{"p":"M","s":"s04","x":7.0,"y":0.3},{"p":"M","s":"s04","x":8.0,"y":0.4},{"p":"M","s":"s04","x":9.0,"y":0.5},{"p":"M","s":"s04","x":10.0,"y":0.6},{"p":"M","s":"s04","x":11.5,"y":0.68},{"p":"M","s":"s04","x":13,"y":0.76},{"p":"M","s":"s04","x":14.5,"y":0.84},{"p":"M","s":"s04","x":16,"y":0.9},{"p":"M","s":"s04","x":18,"y":0.95},{"p":"M","s":"s04","x":20,"y":0.97},
{"p":"M","s":"s17","x":0,"y":0},{"p":"M","s":"s17","x":1.5,"y":0},{"p":"M","s":"s17","x":2.5,"y":0.02},{"p":"M","s":"s17","x":3.5,"y":0.05},{"p":"M","s":"s17","x":5.0,"y":0.1},{"p":"M","s":"s17","x":6.2,"y":0.2},{"p":"M","s":"s17","x":7.5,"y":0.35},{"p":"M","s":"s17","x":8.5,"y":0.45},{"p":"M","s":"s17","x":9.5,"y":0.52},{"p":"M","s":"s17","x":10.5,"y":0.58},{"p":"M","s":"s17","x":12,"y":0.65},{"p":"M","s":"s17","x":13.5,"y":0.72},{"p":"M","s":"s17","x":15,"y":0.8},{"p":"M","s":"s17","x":16.8,"y":0.88},{"p":"M","s":"s17","x":18.5,"y":0.93},{"p":"M","s":"s17","x":20,"y":0.96},
{"p":"M","s":"s01","x":0,"y":0},{"p":"M","s":"s01","x":2.0,"y":0},{"p":"M","s":"s01","x":4.2,"y":0.02},{"p":"M","s":"s01","x":4.5,"y":0.08},{"p":"M","s":"s01","x":5.5,"y":0.12},{"p":"M","s":"s01","x":6.5,"y":0.2},{"p":"M","s":"s01","x":7.5,"y":0.3},{"p":"M","s":"s01","x":8.5,"y":0.4},{"p":"M","s":"s01","x":9.5,"y":0.48},{"p":"M","s":"s01","x":10.5,"y":0.55},{"p":"M","s":"s01","x":11.8,"y":0.62},{"p":"M","s":"s01","x":13.5,"y":0.7},{"p":"M","s":"s01","x":15,"y":0.78},{"p":"M","s":"s01","x":16.5,"y":0.86},{"p":"M","s":"s01","x":18.3,"y":0.92},{"p":"M","s":"s01","x":20,"y":0.95},
{"p":"M","s":"s02","x":0,"y":0},{"p":"M","s":"s02","x":1.0,"y":0},{"p":"M","s":"s02","x":3.5,"y":0.08},{"p":"M","s":"s02","x":5.5,"y":0.15},{"p":"M","s":"s02","x":6.8,"y":0.25},{"p":"M","s":"s02","x":8.0,"y":0.38},{"p":"M","s":"s02","x":9.2,"y":0.48},{"p":"M","s":"s02","x":10.3,"y":0.55},{"p":"M","s":"s02","x":11.5,"y":0.62},{"p":"M","s":"s02","x":12.8,"y":0.7},{"p":"M","s":"s02","x":14.3,"y":0.78},{"p":"M","s":"s02","x":16,"y":0.86},{"p":"M","s":"s02","x":18,"y":0.92},{"p":"M","s":"s02","x":20,"y":0.96},
{"p":"M","s":"s11","x":0,"y":0},{"p":"M","s":"s11","x":0.5,"y":0},{"p":"M","s":"s11","x":2.0,"y":0.05},{"p":"M","s":"s11","x":4.0,"y":0.1},{"p":"M","s":"s11","x":5.5,"y":0.15},{"p":"M","s":"s11","x":6.5,"y":0.2},{"p":"M","s":"s11","x":7.8,"y":0.28},{"p":"M","s":"s11","x":9.0,"y":0.33},{"p":"M","s":"s11","x":9.5,"y":0.35},{"p":"M","s":"s11","x":10.2,"y":0.45},{"p":"M","s":"s11","x":11.3,"y":0.55},{"p":"M","s":"s11","x":12.5,"y":0.65},{"p":"M","s":"s11","x":13.8,"y":0.72},{"p":"M","s":"s11","x":15.3,"y":0.8},{"p":"M","s":"s11","x":16.8,"y":0.86},{"p":"M","s":"s11","x":18.3,"y":0.92},{"p":"M","s":"s11","x":20,"y":0.97},
{"p":"M","s":"s28","x":0,"y":0},{"p":"M","s":"s28","x":1.0,"y":0},{"p":"M","s":"s28","x":2.5,"y":0.05},{"p":"M","s":"s28","x":5.0,"y":0.12},{"p":"M","s":"s28","x":6.5,"y":0.22},{"p":"M","s":"s28","x":7.8,"y":0.32},{"p":"M","s":"s28","x":8.8,"y":0.42},{"p":"M","s":"s28","x":9.5,"y":0.48},{"p":"M","s":"s28","x":10.5,"y":0.55},{"p":"M","s":"s28","x":11.7,"y":0.62},{"p":"M","s":"s28","x":13,"y":0.68},{"p":"M","s":"s28","x":14.5,"y":0.76},{"p":"M","s":"s28","x":16.3,"y":0.84},{"p":"M","s":"s28","x":18,"y":0.9},{"p":"M","s":"s28","x":20,"y":0.95},
{"p":"M","s":"s08","x":0,"y":0},{"p":"M","s":"s08","x":1.0,"y":0},{"p":"M","s":"s08","x":2.5,"y":0.05},{"p":"M","s":"s08","x":5.0,"y":0.12},{"p":"M","s":"s08","x":6.5,"y":0.2},{"p":"M","s":"s08","x":8.0,"y":0.28},{"p":"M","s":"s08","x":9.5,"y":0.38},{"p":"M","s":"s08","x":10.5,"y":0.48},{"p":"M","s":"s08","x":11.5,"y":0.55},{"p":"M","s":"s08","x":12.5,"y":0.62},{"p":"M","s":"s08","x":14,"y":0.7},{"p":"M","s":"s08","x":15.5,"y":0.78},{"p":"M","s":"s08","x":17,"y":0.86},{"p":"M","s":"s08","x":18.5,"y":0.92},{"p":"M","s":"s08","x":20,"y":0.96},
{"p":"M","s":"s13","x":0,"y":0},{"p":"M","s":"s13","x":0.7,"y":0},{"p":"M","s":"s13","x":2.0,"y":0.05},{"p":"M","s":"s13","x":4.0,"y":0.1},{"p":"M","s":"s13","x":6.0,"y":0.15},{"p":"M","s":"s13","x":7.0,"y":0.2},{"p":"M","s":"s13","x":8.0,"y":0.25},{"p":"M","s":"s13","x":9.0,"y":0.32},{"p":"M","s":"s13","x":10.0,"y":0.38},{"p":"M","s":"s13","x":11.0,"y":0.43},{"p":"M","s":"s13","x":12.0,"y":0.5},{"p":"M","s":"s13","x":13.0,"y":0.55},{"p":"M","s":"s13","x":14.0,"y":0.58},{"p":"M","s":"s13","x":15.0,"y":0.62},{"p":"M","s":"s13","x":16.0,"y":0.65},{"p":"M","s":"s13","x":17.0,"y":0.68},{"p":"M","s":"s13","x":18.0,"y":0.75},{"p":"M","s":"s13","x":19.0,"y":0.82},{"p":"M","s":"s13","x":20,"y":0.9},
{"p":"M","s":"s22","x":0,"y":0},{"p":"M","s":"s22","x":1.0,"y":0},{"p":"M","s":"s22","x":2.5,"y":0.05},{"p":"M","s":"s22","x":4.5,"y":0.1},{"p":"M","s":"s22","x":6.0,"y":0.15},{"p":"M","s":"s22","x":7.0,"y":0.22},{"p":"M","s":"s22","x":8.0,"y":0.3},{"p":"M","s":"s22","x":9.0,"y":0.36},{"p":"M","s":"s22","x":10.0,"y":0.42},{"p":"M","s":"s22","x":11.5,"y":0.48},{"p":"M","s":"s22","x":12.5,"y":0.6},{"p":"M","s":"s22","x":13.5,"y":0.66},{"p":"M","s":"s22","x":14.8,"y":0.72},{"p":"M","s":"s22","x":16.2,"y":0.8},{"p":"M","s":"s22","x":17.8,"y":0.87},{"p":"M","s":"s22","x":19,"y":0.92},{"p":"M","s":"s22","x":20,"y":0.95},
{"p":"M","s":"s07","x":0,"y":0},{"p":"M","s":"s07","x":1.2,"y":0},{"p":"M","s":"s07","x":3.0,"y":0.05},{"p":"M","s":"s07","x":4.5,"y":0.1},{"p":"M","s":"s07","x":6.0,"y":0.15},{"p":"M","s":"s07","x":7.2,"y":0.25},{"p":"M","s":"s07","x":8.5,"y":0.33},{"p":"M","s":"s07","x":9.5,"y":0.4},{"p":"M","s":"s07","x":10.5,"y":0.45},{"p":"M","s":"s07","x":11.5,"y":0.5},{"p":"M","s":"s07","x":12.5,"y":0.58},{"p":"M","s":"s07","x":13.8,"y":0.65},{"p":"M","s":"s07","x":15.0,"y":0.72},{"p":"M","s":"s07","x":16.5,"y":0.8},{"p":"M","s":"s07","x":18,"y":0.88},{"p":"M","s":"s07","x":20,"y":0.93},
{"p":"M","s":"s10","x":0,"y":0},{"p":"M","s":"s10","x":1.0,"y":0},{"p":"M","s":"s10","x":2.8,"y":0.05},{"p":"M","s":"s10","x":4.5,"y":0.1},{"p":"M","s":"s10","x":6.0,"y":0.15},{"p":"M","s":"s10","x":7.5,"y":0.25},{"p":"M","s":"s10","x":8.5,"y":0.32},{"p":"M","s":"s10","x":9.5,"y":0.4},{"p":"M","s":"s10","x":10.5,"y":0.43},{"p":"M","s":"s10","x":11.5,"y":0.48},{"p":"M","s":"s10","x":12.5,"y":0.52},{"p":"M","s":"s10","x":13.5,"y":0.6},{"p":"M","s":"s10","x":15.0,"y":0.68},{"p":"M","s":"s10","x":16.5,"y":0.76},{"p":"M","s":"s10","x":18.0,"y":0.84},{"p":"M","s":"s10","x":20,"y":0.92},
{"p":"M","s":"s23","x":0,"y":0},{"p":"M","s":"s23","x":1.5,"y":0},{"p":"M","s":"s23","x":3.0,"y":0.05},{"p":"M","s":"s23","x":5.0,"y":0.1},{"p":"M","s":"s23","x":6.3,"y":0.15},{"p":"M","s":"s23","x":7.5,"y":0.22},{"p":"M","s":"s23","x":8.5,"y":0.3},{"p":"M","s":"s23","x":9.8,"y":0.38},{"p":"M","s":"s23","x":11.0,"y":0.45},{"p":"M","s":"s23","x":12.0,"y":0.5},{"p":"M","s":"s23","x":13.5,"y":0.58},{"p":"M","s":"s23","x":14.5,"y":0.65},{"p":"M","s":"s23","x":15.8,"y":0.72},{"p":"M","s":"s23","x":17.2,"y":0.8},{"p":"M","s":"s23","x":18.8,"y":0.88},{"p":"M","s":"s23","x":20,"y":0.93},
{"p":"M","s":"s14","x":0,"y":0},{"p":"M","s":"s14","x":1.0,"y":0},{"p":"M","s":"s14","x":3.0,"y":0.05},{"p":"M","s":"s14","x":5.0,"y":0.1},{"p":"M","s":"s14","x":6.2,"y":0.15},{"p":"M","s":"s14","x":7.8,"y":0.25},{"p":"M","s":"s14","x":9.0,"y":0.32},{"p":"M","s":"s14","x":10.0,"y":0.38},{"p":"M","s":"s14","x":11.0,"y":0.42},{"p":"M","s":"s14","x":12.5,"y":0.48},{"p":"M","s":"s14","x":14.0,"y":0.55},{"p":"M","s":"s14","x":15.3,"y":0.62},{"p":"M","s":"s14","x":16.8,"y":0.7},{"p":"M","s":"s14","x":18.0,"y":0.78},{"p":"M","s":"s14","x":19.2,"y":0.86},{"p":"M","s":"s14","x":20,"y":0.91},
{"p":"M","s":"s15","x":0,"y":0},{"p":"M","s":"s15","x":1.0,"y":0},{"p":"M","s":"s15","x":3.0,"y":0.05},{"p":"M","s":"s15","x":5.0,"y":0.08},{"p":"M","s":"s15","x":6.5,"y":0.12},{"p":"M","s":"s15","x":7.8,"y":0.2},{"p":"M","s":"s15","x":9.0,"y":0.28},{"p":"M","s":"s15","x":10.0,"y":0.32},{"p":"M","s":"s15","x":11.0,"y":0.36},{"p":"M","s":"s15","x":12.0,"y":0.42},{"p":"M","s":"s15","x":13.0,"y":0.48},{"p":"M","s":"s15","x":14.5,"y":0.55},{"p":"M","s":"s15","x":15.8,"y":0.62},{"p":"M","s":"s15","x":17.0,"y":0.7},{"p":"M","s":"s15","x":18.5,"y":0.8},{"p":"M","s":"s15","x":20,"y":0.88},
{"p":"M","s":"s16","x":0,"y":0},{"p":"M","s":"s16","x":1.5,"y":0},{"p":"M","s":"s16","x":3.5,"y":0.03},{"p":"M","s":"s16","x":5.5,"y":0.07},{"p":"M","s":"s16","x":6.5,"y":0.1},{"p":"M","s":"s16","x":7.5,"y":0.15},{"p":"M","s":"s16","x":8.8,"y":0.25},{"p":"M","s":"s16","x":9.8,"y":0.3},{"p":"M","s":"s16","x":11.0,"y":0.35},{"p":"M","s":"s16","x":12.0,"y":0.4},{"p":"M","s":"s16","x":13.0,"y":0.47},{"p":"M","s":"s16","x":14.5,"y":0.55},{"p":"M","s":"s16","x":15.8,"y":0.63},{"p":"M","s":"s16","x":16.8,"y":0.7},{"p":"M","s":"s16","x":18.0,"y":0.8},{"p":"M","s":"s16","x":20,"y":0.9},
{"p":"M","s":"s19","x":0,"y":0},{"p":"M","s":"s19","x":2.0,"y":0.02},{"p":"M","s":"s19","x":4.0,"y":0.05},{"p":"M","s":"s19","x":5.5,"y":0.08},{"p":"M","s":"s19","x":6.8,"y":0.12},{"p":"M","s":"s19","x":8.0,"y":0.2},{"p":"M","s":"s19","x":9.2,"y":0.25},{"p":"M","s":"s19","x":10.5,"y":0.3},{"p":"M","s":"s19","x":11.5,"y":0.35},{"p":"M","s":"s19","x":12.8,"y":0.42},{"p":"M","s":"s19","x":14.0,"y":0.5},{"p":"M","s":"s19","x":15.0,"y":0.57},{"p":"M","s":"s19","x":16.0,"y":0.62},{"p":"M","s":"s19","x":17.0,"y":0.65},{"p":"M","s":"s19","x":18.0,"y":0.7},{"p":"M","s":"s19","x":18.5,"y":0.73},{"p":"M","s":"s19","x":19.3,"y":0.8},{"p":"M","s":"s19","x":20,"y":0.86},
{"p":"M","s":"s18","x":0,"y":0},{"p":"M","s":"s18","x":1.5,"y":0},{"p":"M","s":"s18","x":3.5,"y":0.03},{"p":"M","s":"s18","x":5.0,"y":0.07},{"p":"M","s":"s18","x":6.5,"y":0.08},{"p":"M","s":"s18","x":7.5,"y":0.1},{"p":"M","s":"s18","x":8.2,"y":0.15},{"p":"M","s":"s18","x":8.7,"y":0.18},{"p":"M","s":"s18","x":9.5,"y":0.22},{"p":"M","s":"s18","x":10.5,"y":0.25},{"p":"M","s":"s18","x":11.5,"y":0.3},{"p":"M","s":"s18","x":12.5,"y":0.35},{"p":"M","s":"s18","x":13.5,"y":0.42},{"p":"M","s":"s18","x":14.5,"y":0.48},{"p":"M","s":"s18","x":15.5,"y":0.55},{"p":"M","s":"s18","x":16.5,"y":0.62},{"p":"M","s":"s18","x":17.5,"y":0.7},{"p":"M","s":"s18","x":18.5,"y":0.78},{"p":"M","s":"s18","x":20,"y":0.87},
{"p":"M","s":"s29","x":0,"y":0},{"p":"M","s":"s29","x":1.5,"y":0},{"p":"M","s":"s29","x":3.5,"y":0.03},{"p":"M","s":"s29","x":5.5,"y":0.06},{"p":"M","s":"s29","x":7.0,"y":0.08},{"p":"M","s":"s29","x":8.0,"y":0.12},{"p":"M","s":"s29","x":8.5,"y":0.15},{"p":"M","s":"s29","x":9.5,"y":0.2},{"p":"M","s":"s29","x":10.5,"y":0.25},{"p":"M","s":"s29","x":11.5,"y":0.3},{"p":"M","s":"s29","x":12.5,"y":0.38},{"p":"M","s":"s29","x":13.5,"y":0.45},{"p":"M","s":"s29","x":14.5,"y":0.52},{"p":"M","s":"s29","x":15.5,"y":0.58},{"p":"M","s":"s29","x":16.5,"y":0.64},{"p":"M","s":"s29","x":17.5,"y":0.7},{"p":"M","s":"s29","x":18.5,"y":0.78},{"p":"M","s":"s29","x":20,"y":0.86},
{"p":"M","s":"s20","x":0,"y":0},{"p":"M","s":"s20","x":2.5,"y":0},{"p":"M","s":"s20","x":5.0,"y":0.05},{"p":"M","s":"s20","x":6.5,"y":0.1},{"p":"M","s":"s20","x":8.0,"y":0.15},{"p":"M","s":"s20","x":9.0,"y":0.17},{"p":"M","s":"s20","x":9.5,"y":0.2},{"p":"M","s":"s20","x":10.0,"y":0.22},{"p":"M","s":"s20","x":11.0,"y":0.28},{"p":"M","s":"s20","x":12.0,"y":0.33},{"p":"M","s":"s20","x":13.0,"y":0.4},{"p":"M","s":"s20","x":14.0,"y":0.47},{"p":"M","s":"s20","x":15.0,"y":0.55},{"p":"M","s":"s20","x":16.0,"y":0.62},{"p":"M","s":"s20","x":17.3,"y":0.7},{"p":"M","s":"s20","x":18.5,"y":0.78},{"p":"M","s":"s20","x":20,"y":0.88},
{"p":"M","s":"s24","x":0,"y":0},{"p":"M","s":"s24","x":1.5,"y":0},{"p":"M","s":"s24","x":4.0,"y":0.05},{"p":"M","s":"s24","x":6.0,"y":0.1},{"p":"M","s":"s24","x":7.5,"y":0.15},{"p":"M","s":"s24","x":8.8,"y":0.22},{"p":"M","s":"s24","x":10.0,"y":0.28},{"p":"M","s":"s24","x":11.0,"y":0.35},{"p":"M","s":"s24","x":12.0,"y":0.42},{"p":"M","s":"s24","x":13.5,"y":0.5},{"p":"M","s":"s24","x":15.0,"y":0.58},{"p":"M","s":"s24","x":16.5,"y":0.65},{"p":"M","s":"s24","x":17.5,"y":0.7},{"p":"M","s":"s24","x":18.5,"y":0.78},{"p":"M","s":"s24","x":20,"y":0.86},
{"p":"M","s":"s34","x":0,"y":0},{"p":"M","s":"s34","x":1.0,"y":0},{"p":"M","s":"s34","x":3.0,"y":0.05},{"p":"M","s":"s34","x":5.5,"y":0.12},{"p":"M","s":"s34","x":7.0,"y":0.2},{"p":"M","s":"s34","x":8.5,"y":0.3},{"p":"M","s":"s34","x":9.7,"y":0.42},{"p":"M","s":"s34","x":11.0,"y":0.5},{"p":"M","s":"s34","x":12.5,"y":0.6},{"p":"M","s":"s34","x":14.0,"y":0.7},{"p":"M","s":"s34","x":15.5,"y":0.78},{"p":"M","s":"s34","x":17.0,"y":0.85},{"p":"M","s":"s34","x":18.5,"y":0.92},{"p":"M","s":"s34","x":20,"y":0.97},
{"p":"M","s":"s25","x":0,"y":0},{"p":"M","s":"s25","x":1.5,"y":0},{"p":"M","s":"s25","x":3.0,"y":0.05},{"p":"M","s":"s25","x":5.0,"y":0.12},{"p":"M","s":"s25","x":6.8,"y":0.22},{"p":"M","s":"s25","x":8.0,"y":0.35},{"p":"M","s":"s25","x":9.0,"y":0.45},{"p":"M","s":"s25","x":10.5,"y":0.5},{"p":"M","s":"s25","x":12.0,"y":0.55},{"p":"M","s":"s25","x":13.5,"y":0.62},{"p":"M","s":"s25","x":15.0,"y":0.7},{"p":"M","s":"s25","x":16.5,"y":0.8},{"p":"M","s":"s25","x":18.0,"y":0.88},{"p":"M","s":"s25","x":20,"y":0.92},
{"p":"M","s":"s05","x":0,"y":0},{"p":"M","s":"s05","x":1.0,"y":0},{"p":"M","s":"s05","x":2.5,"y":0.05},{"p":"M","s":"s05","x":4.5,"y":0.1},{"p":"M","s":"s05","x":6.3,"y":0.2},{"p":"M","s":"s05","x":7.8,"y":0.3},{"p":"M","s":"s05","x":9.0,"y":0.38},{"p":"M","s":"s05","x":10.0,"y":0.45},{"p":"M","s":"s05","x":11.0,"y":0.53},{"p":"M","s":"s05","x":12.3,"y":0.62},{"p":"M","s":"s05","x":13.5,"y":0.72},{"p":"M","s":"s05","x":15.0,"y":0.8},{"p":"M","s":"s05","x":16.5,"y":0.86},{"p":"M","s":"s05","x":18.3,"y":0.92},{"p":"M","s":"s05","x":20,"y":0.96},
{"p":"M","s":"s12","x":0,"y":0},{"p":"M","s":"s12","x":0.7,"y":0},{"p":"M","s":"s12","x":2.0,"y":0.05},{"p":"M","s":"s12","x":4.0,"y":0.1},{"p":"M","s":"s12","x":5.5,"y":0.15},{"p":"M","s":"s12","x":7.0,"y":0.22},{"p":"M","s":"s12","x":8.5,"y":0.3},{"p":"M","s":"s12","x":9.8,"y":0.38},{"p":"M","s":"s12","x":11.0,"y":0.45},{"p":"M","s":"s12","x":12.0,"y":0.52},{"p":"M","s":"s12","x":13.3,"y":0.6},{"p":"M","s":"s12","x":14.8,"y":0.7},{"p":"M","s":"s12","x":16.2,"y":0.8},{"p":"M","s":"s12","x":18.0,"y":0.88},{"p":"M","s":"s12","x":20,"y":0.94},
{"p":"M","s":"s26","x":0,"y":0},{"p":"M","s":"s26","x":1.5,"y":0},{"p":"M","s":"s26","x":3.0,"y":0.05},{"p":"M","s":"s26","x":5.5,"y":0.1},{"p":"M","s":"s26","x":7.0,"y":0.18},{"p":"M","s":"s26","x":8.2,"y":0.25},{"p":"M","s":"s26","x":9.2,"y":0.3},{"p":"M","s":"s26","x":10.8,"y":0.38},{"p":"M","s":"s26","x":11.8,"y":0.45},{"p":"M","s":"s26","x":12.5,"y":0.55},{"p":"M","s":"s26","x":13.5,"y":0.62},{"p":"M","s":"s26","x":15.0,"y":0.72},{"p":"M","s":"s26","x":16.5,"y":0.82},{"p":"M","s":"s26","x":18.3,"y":0.9},{"p":"M","s":"s26","x":20,"y":0.95}
]},
"vconcat":[
{"title":"Rotorcraft","width":1156,"height":164,
"transform":[{"filter":"datum.p === 'R'"}],
"mark":{"type":"line","interpolate":"monotone","strokeWidth":1.4},
"encoding":{
"x":{"field":"x","type":"quantitative","scale":{"domain":[0,20],"nice":false,"zero":false},"axis":{"values":[0,1,2,3,4,5,6,7,8,9,10,11,12,13,14,15,16,17,18,19,20],"title":null}},
"y":{"field":"y","type":"quantitative","scale":{"domain":[0,1],"nice":false},"axis":{"values":[0,0.5,1],"format":"~g","title":null}},
"color":{"field":"s","type":"nominal","legend":null,"scale":{"domain":["s01","s02","s03","s04","s05","s06","s07","s08","s09","s10","s11","s12","s13","s14","s15","s16","s17","s18","s19","s20","s21","s22","s23","s24","s25","s26","s27","s28","s29","s30","s31","s32","s33","s34","s35"],"range":["#ff00ff","#a9c5e8","#d67fd6","#f08070","#a0632a","#6b6b3a","#dc143c","#ffd700","#2e8b2e","#00e600","#0000cd","#000080","#000000","#808080","#00bfff","#adff2f","#ff1493","#ff4500","#1e90ff","#8a2be2","#800080","#2f8f8f","#00e68a","#7fffd4","#ffb6c1","#8b1a4a","#f5deb3","#b8860b","#483d8b","#7b1fa2","#6a5acd","#006400","#cd853f","#9932cc","#111111"]}}
}},
{"title":"Fixed-Wing Single Engine","width":1156,"height":163,
"transform":[{"filter":"datum.p === 'S'"}],
"mark":{"type":"line","interpolate":"monotone","strokeWidth":1.4},
"encoding":{
"x":{"field":"x","type":"quantitative","scale":{"domain":[0,20],"nice":false,"zero":false},"axis":{"values":[0,1,2,3,4,5,6,7,8,9,10,11,12,13,14,15,16,17,18,19,20],"title":null}},
"y":{"field":"y","type":"quantitative","scale":{"domain":[0,1],"nice":false},"axis":{"values":[0,0.5,1],"format":"~g","title":"CDF","titlePadding":15}},
"color":{"field":"s","type":"nominal","legend":null}
}},
{"title":"Fixed-Wing Multi-Engine","width":1156,"height":164,
"transform":[{"filter":"datum.p === 'M'"}],
"mark":{"type":"line","interpolate":"monotone","strokeWidth":1.4},
"encoding":{
"x":{"field":"x","type":"quantitative","scale":{"domain":[0,20],"nice":false,"zero":false},"axis":{"values":[0,1,2,3,4,5,6,7,8,9,10,11,12,13,14,15,16,17,18,19,20],"title":"Distance from Vertiport (Nmi)","titlePadding":12}},
"y":{"field":"y","type":"quantitative","scale":{"domain":[0,1],"nice":false},"axis":{"values":[0,0.5,1],"format":"~g","title":null}},
"color":{"field":"s","type":"nominal","legend":null}
}}
]
}
